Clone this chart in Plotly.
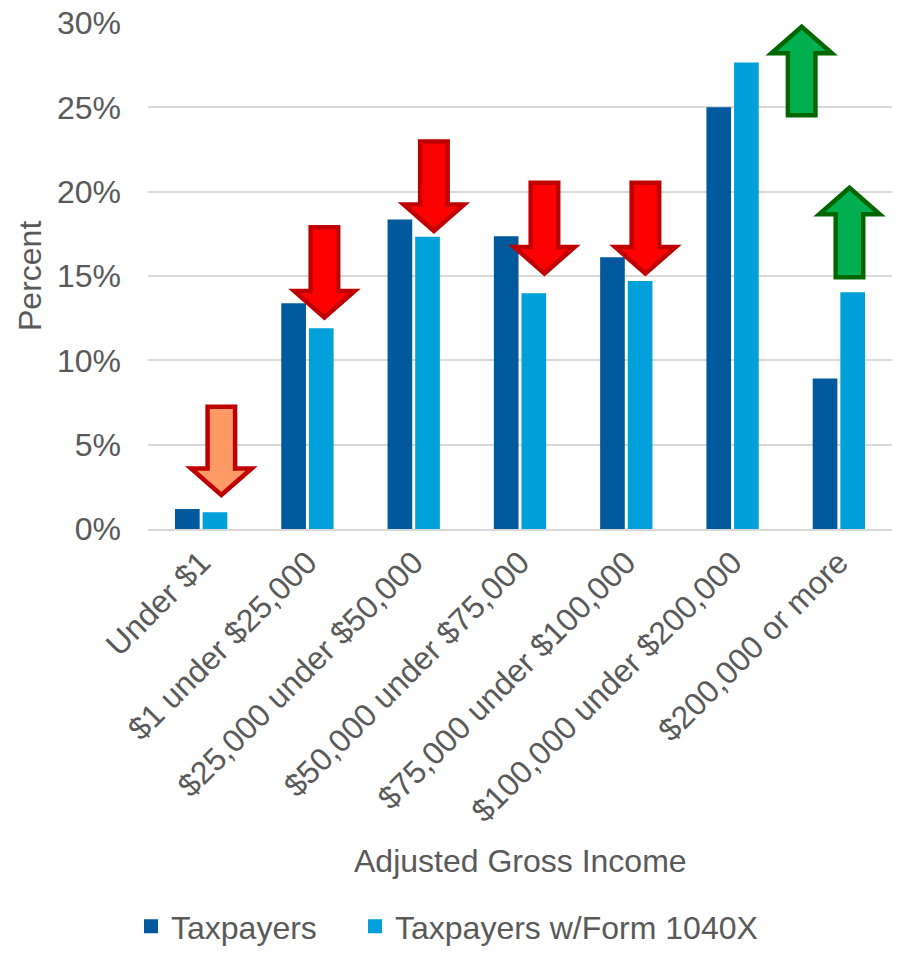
import plotly.graph_objects as go

# Share of taxpayers by adjusted gross income bracket
categories = [
    "Under $1",
    "$1 under $25,000",
    "$25,000 under $50,000",
    "$50,000 under $75,000",
    "$75,000 under $100,000",
    "$100,000 under $200,000",
    "$200,000 or more",
]
taxpayers = [1.12, 13.33, 18.29, 17.3, 16.05, 24.95, 8.86]
taxpayers_1040x = [0.93, 11.85, 17.27, 13.92, 14.65, 27.6, 13.98]

# Direction-of-change arrows: x position (category index), tail and tip (percent)
arrow_x = [0.19, 1.16, 2.19, 3.23, 4.18, 5.65, 6.10]
arrow_tail = [7.38, 18.02, 23.1, 20.66, 20.66, 24.4, 14.8]
arrow_tip = [1.83, 12.35, 17.48, 14.96, 14.96, 29.96, 20.42]
arrow_fill = ["#FF9966", "#FF0000", "#FF0000", "#FF0000", "#FF0000", "#00B050", "#00B050"]
arrow_edge = ["#C00000", "#C00000", "#C00000", "#C00000", "#C00000", "#006600", "#006600"]

W, H = 897, 954
M_L, M_R, M_T, M_B = 148, 5, 21, 425
plot_w = W - M_L - M_R
plot_h = H - M_T - M_B
x_unit = plot_w / 7.0     # px per category
y_unit = plot_h / 30.0    # px per percent

TEXT = "#595959"
FONT = "Arial"
FS = 32
DARK = "#01599D"
LIGHT = "#00A0DA"

fig = go.Figure()
fig.add_trace(go.Bar(
    x=list(range(len(categories))), y=taxpayers, name="Taxpayers",
    marker=dict(color=DARK, line=dict(width=2, color=DARK)), legend="legend",
))
fig.add_trace(go.Bar(
    x=list(range(len(categories))), y=taxpayers_1040x, name="Taxpayers w/Form 1040X",
    marker=dict(color=LIGHT, line=dict(width=2, color=LIGHT)), legend="legend2",
))

# Block arrows drawn as closed paths in data space
lw = 4.5
shaft_half = (32 - lw) / 2 / x_unit
head_half = (65 - lw) / 2 / x_unit
for cx, tail, tip, fill, edge in zip(arrow_x, arrow_tail, arrow_tip, arrow_fill, arrow_edge):
    d = 1 if tip > tail else -1
    tip_i = tip - d * (0.707 * lw) / y_unit
    tail_i = tail + d * (lw / 2) / y_unit
    head_len = (32 - 0.707 * lw - lw / 2) / y_unit
    base = tip_i - d * head_len
    pts = [
        (cx - shaft_half, tail_i), (cx - shaft_half, base), (cx - head_half, base),
        (cx, tip_i), (cx + head_half, base), (cx + shaft_half, base),
        (cx + shaft_half, tail_i),
    ]
    path = "M " + " L ".join(f"{px:.4f},{py:.4f}" for px, py in pts) + " Z"
    fig.add_shape(type="path", path=path, xref="x", yref="y",
                  fillcolor=fill, line=dict(color=edge, width=lw), layer="above")

legend_common = dict(orientation="h", xref="container", yref="container",
                     xanchor="left", y=0.0, yanchor="bottom",
                     font=dict(size=FS, color=TEXT), bgcolor="rgba(0,0,0,0)")

fig.update_layout(
    width=W, height=H,
    margin=dict(l=M_L, r=M_R, t=M_T, b=M_B),
    paper_bgcolor="white", plot_bgcolor="white",
    font=dict(family=FONT, size=FS, color=TEXT),
    barmode="group", bargap=0.48, bargroupgap=0.18,
    showlegend=True,
    legend=dict(x=131 / W, **legend_common),
    legend2=dict(x=355 / W, **legend_common),
    annotations=[
        dict(text="Adjusted Gross Income", xref="paper", yref="paper",
             x=0.5, y=(529 - 862) / plot_h, xanchor="center", yanchor="middle",
             showarrow=False, font=dict(size=FS, color=TEXT)),
        dict(text="Percent", xref="paper", yref="paper",
             x=(30 - M_L) / plot_w, y=0.5, xanchor="center", yanchor="middle",
             textangle=-90, showarrow=False, font=dict(size=FS, color=TEXT)),
    ],
)
fig.update_xaxes(
    range=[-0.5, 6.5], tickmode="array",
    tickvals=list(range(len(categories))), ticktext=categories,
    tickangle=-45, showgrid=False, showline=True, linecolor="#D9D9D9", linewidth=2,
    ticks="", tickfont=dict(size=FS, color=TEXT), zeroline=False,
)
fig.update_yaxes(
    range=[0, 30], dtick=5, ticksuffix="%", showgrid=True,
    gridcolor="#D9D9D9", gridwidth=2, zeroline=False, showline=False,
    ticks="", ticklabelstandoff=26, tickfont=dict(size=FS, color=TEXT),
)

fig.write_html("out.html")
